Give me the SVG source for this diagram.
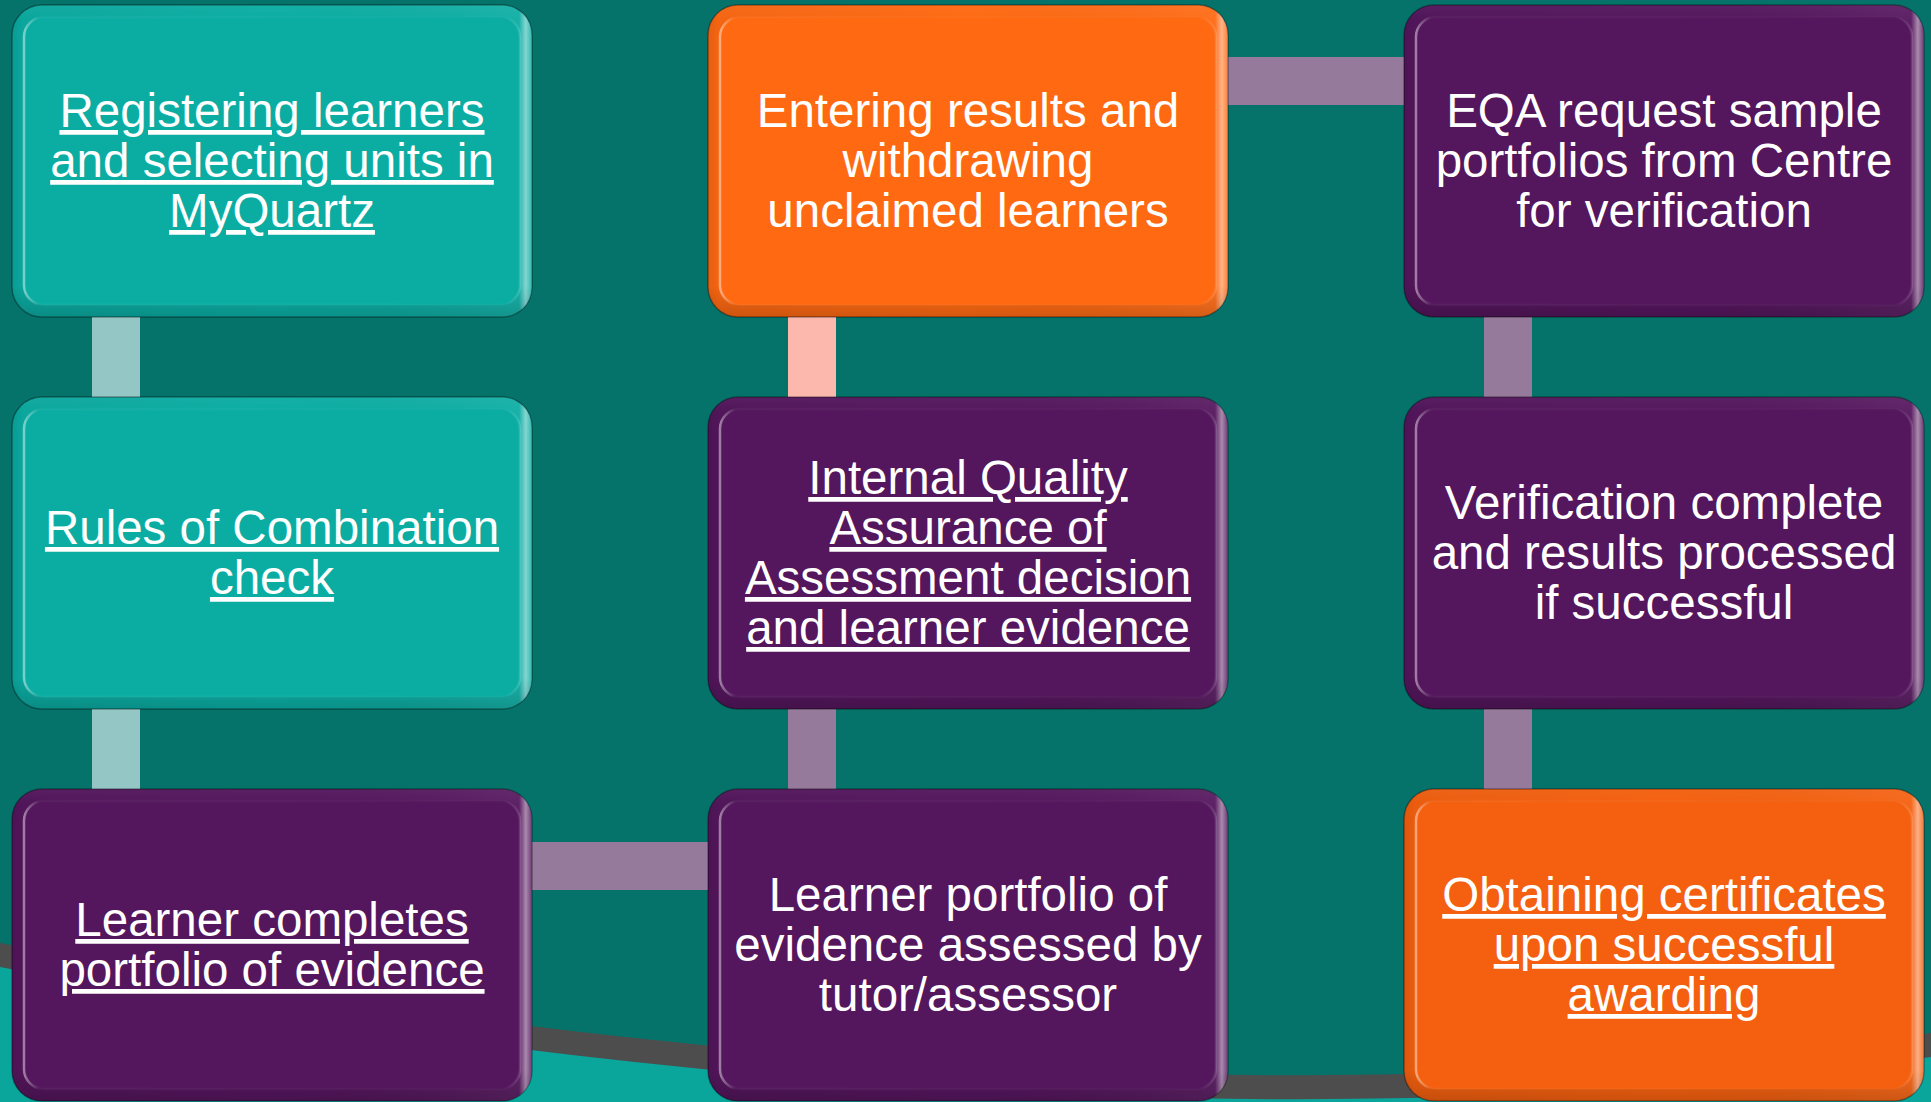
<svg xmlns="http://www.w3.org/2000/svg" width="1931" height="1102" viewBox="0 0 1931 1102">
  <defs>
    <!-- lighting on the bevelled rim of each box -->
    <linearGradient id="rimSides" x1="0" y1="0" x2="1" y2="0">
      <stop offset="0" stop-color="#000" stop-opacity="0.10"/>
      <stop offset="0.02" stop-color="#000" stop-opacity="0.04"/>
      <stop offset="0.5" stop-color="#000" stop-opacity="0"/>
      <stop offset="0.975" stop-color="#fff" stop-opacity="0.05"/>
      <stop offset="0.988" stop-color="#fff" stop-opacity="0.5"/>
      <stop offset="1" stop-color="#fff" stop-opacity="0.15"/>
    </linearGradient>
    <linearGradient id="rimTopBottom" x1="0" y1="0" x2="0" y2="1">
      <stop offset="0" stop-color="#fff" stop-opacity="0.04"/>
      <stop offset="0.05" stop-color="#fff" stop-opacity="0"/>
      <stop offset="0.9" stop-color="#000" stop-opacity="0"/>
      <stop offset="1" stop-color="#000" stop-opacity="0.16"/>
    </linearGradient>
    <linearGradient id="innerEdge" x1="0" y1="0" x2="1" y2="0">
      <stop offset="0" stop-color="#fff" stop-opacity="0.45"/>
      <stop offset="0.03" stop-color="#fff" stop-opacity="0.04"/>
      <stop offset="0.97" stop-color="#fff" stop-opacity="0.02"/>
      <stop offset="1" stop-color="#fff" stop-opacity="0.15"/>
    </linearGradient>
  </defs>

  <style>
    .bg { fill: #06736B; }
    .band { fill: #4D4D4D; }
    .floor { fill: #0AA69C; }
    .link { stroke-width: 48; stroke-linecap: butt; fill: none; }
    .mauve { stroke: #957A9C; }
    .pale { stroke: #93C6C5; }
    .salmon { stroke: #FDB8AE; }
    .box { stroke: rgba(0,0,0,0.35); stroke-width: 1.5; }
    .rim-s { fill: url(#rimSides); }
    .rim-v { fill: url(#rimTopBottom); }
    .face { stroke: url(#innerEdge); stroke-width: 2.5; }
    .teal .box, .teal .face { fill: #0BADA3; }
    .purple .box, .purple .face { fill: #54165D; }
    .orange .box, .orange .face { fill: #FE6912; }
    .amber .box, .amber .face { fill: #F4600F; }
    .lbl { font-family: "Liberation Sans", Arial, sans-serif; font-size: 47.5px; fill: #FFFFFF; text-anchor: middle; }
    .ul { text-decoration: underline; }
  </style>

  <!-- backdrop with the sweeping band along the bottom -->
  <rect class="bg" x="0" y="0" width="1931" height="1102"/>
  <path class="band" d="M0,943 Q1100,1150 1931,1033 L1931,1102 L0,1102 Z"/>
  <path class="floor" d="M0,967 Q1100,1174 1931,1057 L1931,1102 L0,1102 Z"/>

  <!-- connectors between the steps -->
  <g id="connectors">
    <line class="link pale" x1="116" y1="310" x2="116" y2="404"/>
    <line class="link pale" x1="116" y1="702" x2="116" y2="796"/>
    <line class="link mauve" x1="525" y1="866" x2="715" y2="866"/>
    <line class="link mauve" x1="812" y1="796" x2="812" y2="702"/>
    <line class="link salmon" x1="812" y1="404" x2="812" y2="310"/>
    <line class="link mauve" x1="1222" y1="81" x2="1411" y2="81"/>
    <line class="link mauve" x1="1508" y1="310" x2="1508" y2="404"/>
    <line class="link mauve" x1="1508" y1="702" x2="1508" y2="796"/>
  </g>

  <!-- column 1 -->
  <g id="registering" class="teal">
    <rect class="box" x="12" y="5" width="520" height="312" rx="30"/>
    <rect class="rim-s" x="12" y="5" width="520" height="312" rx="30"/>
    <rect class="rim-v" x="12" y="5" width="520" height="312" rx="30"/>
    <rect class="face" x="24" y="17" width="496" height="288" rx="20"/>
    <text class="lbl ul"><tspan x="272" y="127">Registering learners</tspan><tspan x="272" y="177">and selecting units in</tspan><tspan x="272" y="227">MyQuartz</tspan></text>
  </g>

  <g id="rules-check" class="teal">
    <rect class="box" x="12" y="397" width="520" height="312" rx="30"/>
    <rect class="rim-s" x="12" y="397" width="520" height="312" rx="30"/>
    <rect class="rim-v" x="12" y="397" width="520" height="312" rx="30"/>
    <rect class="face" x="24" y="409" width="496" height="288" rx="20"/>
    <text class="lbl ul"><tspan x="272" y="544">Rules of Combination</tspan><tspan x="272" y="594">check</tspan></text>
  </g>

  <g id="portfolio" class="purple">
    <rect class="box" x="12" y="789" width="520" height="312" rx="30"/>
    <rect class="rim-s" x="12" y="789" width="520" height="312" rx="30"/>
    <rect class="rim-v" x="12" y="789" width="520" height="312" rx="30"/>
    <rect class="face" x="24" y="801" width="496" height="288" rx="20"/>
    <text class="lbl ul"><tspan x="272" y="936">Learner completes</tspan><tspan x="272" y="986">portfolio of evidence</tspan></text>
  </g>

  <!-- column 2 -->
  <g id="entering-results" class="orange">
    <rect class="box" x="708" y="5" width="520" height="312" rx="30"/>
    <rect class="rim-s" x="708" y="5" width="520" height="312" rx="30"/>
    <rect class="rim-v" x="708" y="5" width="520" height="312" rx="30"/>
    <rect class="face" x="720" y="17" width="496" height="288" rx="20"/>
    <text class="lbl"><tspan x="968" y="127">Entering results and</tspan><tspan x="968" y="177">withdrawing</tspan><tspan x="968" y="227">unclaimed learners</tspan></text>
  </g>

  <g id="iqa" class="purple">
    <rect class="box" x="708" y="397" width="520" height="312" rx="30"/>
    <rect class="rim-s" x="708" y="397" width="520" height="312" rx="30"/>
    <rect class="rim-v" x="708" y="397" width="520" height="312" rx="30"/>
    <rect class="face" x="720" y="409" width="496" height="288" rx="20"/>
    <text class="lbl ul"><tspan x="968" y="494">Internal Quality</tspan><tspan x="968" y="544">Assurance of</tspan><tspan x="968" y="594">Assessment decision</tspan><tspan x="968" y="644">and learner evidence</tspan></text>
  </g>

  <g id="assessed" class="purple">
    <rect class="box" x="708" y="789" width="520" height="312" rx="30"/>
    <rect class="rim-s" x="708" y="789" width="520" height="312" rx="30"/>
    <rect class="rim-v" x="708" y="789" width="520" height="312" rx="30"/>
    <rect class="face" x="720" y="801" width="496" height="288" rx="20"/>
    <text class="lbl"><tspan x="968" y="911">Learner portfolio of</tspan><tspan x="968" y="961">evidence assessed by</tspan><tspan x="968" y="1011">tutor/assessor</tspan></text>
  </g>

  <!-- column 3 -->
  <g id="eqa-request" class="purple">
    <rect class="box" x="1404" y="5" width="520" height="312" rx="30"/>
    <rect class="rim-s" x="1404" y="5" width="520" height="312" rx="30"/>
    <rect class="rim-v" x="1404" y="5" width="520" height="312" rx="30"/>
    <rect class="face" x="1416" y="17" width="496" height="288" rx="20"/>
    <text class="lbl"><tspan x="1664" y="127">EQA request sample</tspan><tspan x="1664" y="177">portfolios from Centre</tspan><tspan x="1664" y="227">for verification</tspan></text>
  </g>

  <g id="verification" class="purple">
    <rect class="box" x="1404" y="397" width="520" height="312" rx="30"/>
    <rect class="rim-s" x="1404" y="397" width="520" height="312" rx="30"/>
    <rect class="rim-v" x="1404" y="397" width="520" height="312" rx="30"/>
    <rect class="face" x="1416" y="409" width="496" height="288" rx="20"/>
    <text class="lbl"><tspan x="1664" y="519">Verification complete</tspan><tspan x="1664" y="569">and results processed</tspan><tspan x="1664" y="619">if successful</tspan></text>
  </g>

  <g id="certificates" class="amber">
    <rect class="box" x="1404" y="789" width="520" height="312" rx="30"/>
    <rect class="rim-s" x="1404" y="789" width="520" height="312" rx="30"/>
    <rect class="rim-v" x="1404" y="789" width="520" height="312" rx="30"/>
    <rect class="face" x="1416" y="801" width="496" height="288" rx="20"/>
    <text class="lbl ul"><tspan x="1664" y="911">Obtaining certificates</tspan><tspan x="1664" y="961">upon successful</tspan><tspan x="1664" y="1011">awarding</tspan></text>
  </g>
</svg>
